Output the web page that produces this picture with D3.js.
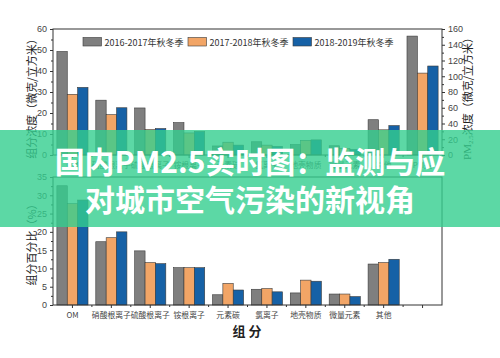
<!DOCTYPE html>
<html><head><meta charset="utf-8">
<script src="https://cdn.jsdelivr.net/npm/d3@7"></script>
<style>
html,body{margin:0;padding:0;background:#fff;}
svg{display:block;font-family:"Noto Sans CJK SC","Noto Sans",sans-serif;}
</style></head>
<body>
<svg id="chart" width="500" height="358"></svg>
<script>
// ---- data ----
const categories = ["OM","硝酸根离子","硫酸根离子","铵根离子","元素碳","氯离子","地壳物质","微量元素","其他","PM2.5"];
const seriesNames = ["2016-2017年秋冬季","2017-2018年秋冬季","2018-2019年秋冬季"];
const seriesColors = ["#7f7f7f","#f2a566","#1661a6"];
// concentration (μg/m³), left axis, components
const conc2016 = [49.3, 26.1, 22.4, 15.4, 4.3, 6.3, 5.0, 4.4, 16.8];
const conc2017 = [28.9, 19.2, 12.1, 10.5, 6.1, 4.7, 7.0, 3.1, 12.0];
const conc2018 = [32.2, 22.5, 12.6, 11.2, 4.7, 4.1, 7.2, 2.6, 14.0];
// total PM2.5, right axis
const pm25Total = [151, 104, 113];
// percentage of components
const pct2016 = [32.6, 17.3, 14.8, 10.2, 2.8, 4.3, 3.3, 3.0, 11.2];
const pct2017 = [27.7, 18.4, 11.6, 10.2, 5.9, 4.5, 6.8, 3.0, 11.6];
const pct2018 = [28.7, 20.0, 11.3, 10.2, 4.1, 3.6, 6.5, 2.3, 12.5];
const topTicks = [0,10,20,30,40,50,60];
const rightTicks = [0,20,40,60,80,100,120,140,160];
const bottomTicks = [0,5,10,15,20,25,30,35];
const titleLines = ["国内PM2.5实时图：监测与应","对城市空气污染的新视角"];

const svg = d3.select("#chart");
const L = 53, R = 442;
const x = d3.scaleBand().domain(categories).range([L, R]).paddingInner(0.2).paddingOuter(0.1);
const xs = d3.scaleBand().domain([0,1,2]).range([0, x.bandwidth()]);
const yTop = d3.scaleLinear().domain([0,60]).range([155,29]);
const yTopR = d3.scaleLinear().domain([0,160]).range([155,29]);
const yBot = d3.scaleLinear().domain([0,35]).range([305,177]);

const concSeries = [conc2016, conc2017, conc2018];
const pctSeries = [pct2016, pct2017, pct2018];
const comps = categories.slice(0,9);

function bars(g, series, yScale){
  series.forEach((vals, si) => {
    g.selectAll(null).data(vals).enter().append("rect")
      .attr("x", (d,i) => x(comps[i]) + xs(si))
      .attr("width", xs.bandwidth())
      .attr("y", d => yScale(d))
      .attr("height", d => yScale(0) - yScale(d))
      .attr("fill", seriesColors[si])
      .attr("stroke", "#3a3a3a").attr("stroke-width", 0.6);
  });
}

function styleAxis(g){
  g.selectAll("path.domain").remove();
  g.selectAll("line").attr("stroke","#333");
  g.selectAll("text").attr("fill","#444").style("font-size","9px").style("font-family","Liberation Sans, Arial, sans-serif");
}

function xAxis(yPos, labels){
  const g = svg.append("g").attr("transform",`translate(0,${yPos})`)
    .call(d3.axisBottom(x).tickSize(3).tickPadding(4).tickFormat((d,i)=>labels[i]));
  styleAxis(g);
  g.selectAll("text").style("font-family","Noto Sans CJK SC, sans-serif").style("font-size","7.8px").attr("fill","#444");
  const gap = (x.step() - x.bandwidth())/2;
  g.selectAll(null).data(categories.slice(1)).enter().append("line")
    .attr("x1", d => x(d) - gap).attr("x2", d => x(d) - gap)
    .attr("y1", 0).attr("y2", 2).attr("stroke","#333");
}

// ---- top panel ----
const topPanel = svg.append("g");
bars(topPanel, concSeries, yTop);
topPanel.selectAll(null).data(pm25Total).enter().append("rect")
  .attr("x", (d,i) => x("PM2.5") + xs(i)).attr("width", xs.bandwidth())
  .attr("y", d => yTopR(d)).attr("height", d => yTopR(0) - yTopR(d))
  .attr("fill", (d,i) => seriesColors[i]).attr("stroke","#3a3a3a").attr("stroke-width",0.6);
svg.append("rect").attr("x",L).attr("y",29).attr("width",R-L).attr("height",155-29)
  .attr("fill","none").attr("stroke","#333").attr("stroke-width",1);
let g = svg.append("g").attr("transform",`translate(${L},0)`)
  .call(d3.axisLeft(yTop).tickValues(topTicks).tickSize(3).tickPadding(3));
styleAxis(g);
g = svg.append("g").attr("transform",`translate(${L},0)`)
  .call(d3.axisLeft(yTop).tickValues(d3.range(5,60,10)).tickSize(2).tickFormat(""));
styleAxis(g);
g = svg.append("g").attr("transform",`translate(${R},0)`)
  .call(d3.axisRight(yTopR).tickValues(rightTicks).tickSize(3).tickPadding(3));
styleAxis(g);
g = svg.append("g").attr("transform",`translate(${R},0)`)
  .call(d3.axisRight(yTopR).tickValues(d3.range(10,160,20)).tickSize(2).tickFormat(""));
styleAxis(g);
xAxis(155, categories.map(c => c === "PM2.5" ? "PM₂.₅" : c));

// legend
const legX = [83, 188, 293];
seriesNames.forEach((n,i) => {
  svg.append("rect").attr("x",legX[i]).attr("y",37.5).attr("width",18.5).attr("height",8.5)
    .attr("fill",seriesColors[i]).attr("stroke","#3a3a3a").attr("stroke-width",0.6);
  svg.append("text").attr("x",legX[i]+21.5).attr("y",45.5).text(n)
    .attr("fill","#333").style("font-size","9px");
});

svg.append("text").attr("transform","translate(31,96) rotate(-90)")
  .attr("text-anchor","middle").attr("dominant-baseline","central")
  .attr("fill","#222").style("font-size","11px").text("组分浓度（微克/立方米）");
const rt = svg.append("text").attr("transform","translate(467,96) rotate(-90)")
  .attr("text-anchor","middle").attr("dominant-baseline","central")
  .attr("fill","#222").style("font-size","11px");
rt.append("tspan").text("PM").style("font-family","Liberation Serif, serif");
rt.append("tspan").text("2.5").attr("baseline-shift","sub").style("font-size","7px").style("font-family","Liberation Serif, serif");
rt.append("tspan").text("浓度（微克/立方米）");

// ---- bottom panel ----
const botPanel = svg.append("g");
bars(botPanel, pctSeries, yBot);
svg.append("rect").attr("x",L).attr("y",177).attr("width",R-L).attr("height",305-177)
  .attr("fill","none").attr("stroke","#333").attr("stroke-width",1);
g = svg.append("g").attr("transform",`translate(${L},0)`)
  .call(d3.axisLeft(yBot).tickValues(bottomTicks).tickSize(3).tickPadding(3));
styleAxis(g);
g = svg.append("g").attr("transform",`translate(${L},0)`)
  .call(d3.axisLeft(yBot).tickValues(d3.range(2.5,35,5)).tickSize(2).tickFormat(""));
styleAxis(g);
xAxis(305, categories.map(c => c === "PM2.5" ? "" : c));
svg.append("text").attr("transform","translate(31,242) rotate(-90)")
  .attr("text-anchor","middle").attr("dominant-baseline","central")
  .attr("fill","#222").style("font-size","11px").text("组分百分比（%）");
svg.append("text").attr("x",247).attr("y",330).attr("text-anchor","middle")
  .attr("dominant-baseline","central").attr("fill","#222")
  .style("font-size","13px").style("font-weight","700").text("组 分");

// ---- banner ----
svg.append("rect").attr("x",0).attr("y",130).attr("width",500).attr("height",97)
  .attr("fill","rgb(51,206,142)").attr("fill-opacity",0.8);
titleLines.forEach((t,i) => {
  svg.append("text").attr("x",250).attr("y", i===0 ? 160 : 198)
    .attr("text-anchor","middle").attr("dominant-baseline","central")
    .attr("fill","#fff").style("font-size","30px").style("font-weight","700")
    .text(t);
});
</script>
</body></html>
